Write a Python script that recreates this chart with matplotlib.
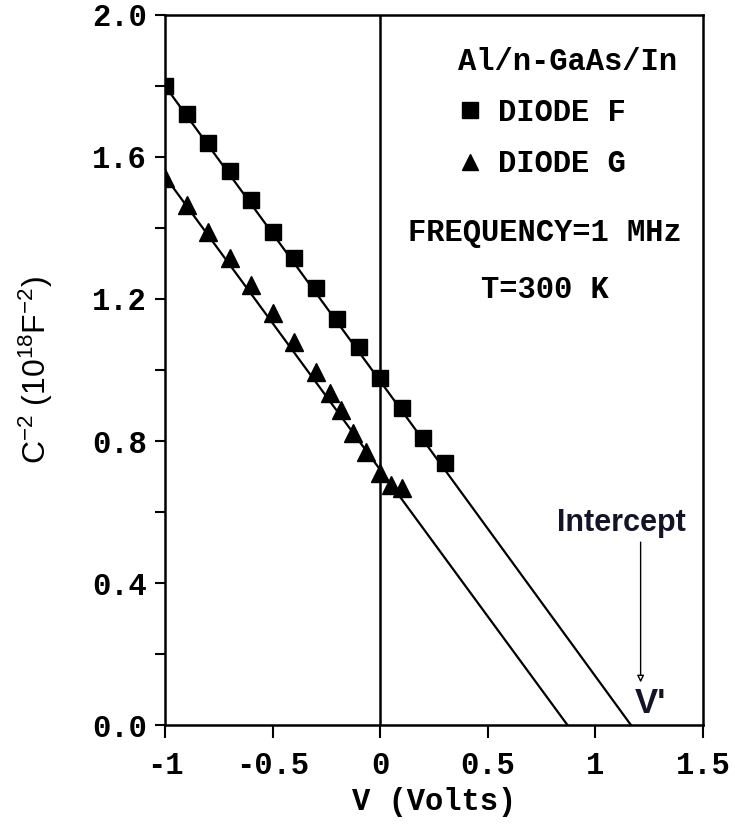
import numpy as np
import matplotlib
matplotlib.use("Agg")
import matplotlib.pyplot as plt
from matplotlib.lines import Line2D

plt.rcParams['axes.unicode_minus'] = False
plt.rcParams['mathtext.default'] = 'regular'

# C^-2 vs V data
v_F = [-1.0, -0.9, -0.8, -0.7, -0.6, -0.5, -0.4, -0.3, -0.2, -0.1, 0.0, 0.1, 0.2, 0.3]
c_F = [1.80, 1.72, 1.64, 1.56, 1.48, 1.39, 1.315, 1.23, 1.145, 1.065, 0.977, 0.892, 0.808, 0.737]

v_G = [-1.0, -0.9, -0.8, -0.7, -0.6, -0.5, -0.4, -0.3, -0.235, -0.18, -0.125, -0.065, 0.0, 0.05, 0.1]
c_G = [1.54, 1.465, 1.39, 1.315, 1.24, 1.16, 1.08, 0.995, 0.934, 0.887, 0.822, 0.77, 0.71, 0.675, 0.668]

# linear fits extrapolated to the intercept
fit_F_v = [-1.0, 1.165]
fit_F_c = [1.80, 0.0]
fit_G_v = [-1.0, 0.87]
fit_G_c = [1.545, 0.0]

xticks = [-1, -0.5, 0, 0.5, 1, 1.5]
xticklabels = ['-1', '-0.5', '0', '0.5', '1', '1.5']
yticks = [0.0, 0.4, 0.8, 1.2, 1.6, 2.0]
yticklabels = ['0.0', '0.4', '0.8', '1.2', '1.6', '2.0']

mono = 'Liberation Mono'
sans = 'Liberation Sans'

fig = plt.figure(figsize=(7.35, 8.27), dpi=100)
ax = fig.add_axes([0.2245, 0.1233, 0.732, 0.8586])

ax.plot(fit_F_v, fit_F_c, 'k-', lw=1.6)
ax.plot(fit_G_v, fit_G_c, 'k-', lw=1.6)
ax.plot(v_F, c_F, 's', color='k', ms=11, ls='none')
ax.plot(v_G, c_G, '^', color='k', ms=12.5, ls='none')
ax.axvline(0, color='k', lw=1.8)

ax.set_xlim(-1, 1.5)
ax.set_ylim(0, 2.0)
ax.set_xticks(xticks)
ax.set_xticklabels(xticklabels, fontfamily=mono, fontweight='bold', fontsize=22)
ax.set_yticks(yticks)
ax.set_yticklabels(yticklabels, fontfamily=mono, fontweight='bold', fontsize=22)
ax.set_yticks(np.arange(0.2, 2.0, 0.4), minor=True)
ax.tick_params(axis='x', direction='out', length=9, width=1.5, pad=10)
ax.tick_params(axis='y', which='both', direction='out', length=7, width=1.5, pad=6)
for s in ax.spines.values():
    s.set_linewidth(1.8)

ax.set_xlabel('V (Volts)', fontfamily=mono, fontweight='bold', fontsize=22, labelpad=4)
ax.set_ylabel('C$^{-2}$ (10$^{18}$F$^{-2}$)', fontfamily=sans, fontsize=23)
ax.yaxis.set_label_coords(-0.205, 0.5)

# legend
sq = Line2D([], [], marker='s', color='k', ls='none', ms=11)
tri = Line2D([], [], marker='^', color='k', ls='none', ms=12)
leg = ax.legend([sq, tri], ['DIODE F', 'DIODE G'], title='Al/n-GaAs/In',
                loc='upper left', bbox_to_anchor=(0.516, 0.977), frameon=False,
                prop={'family': mono, 'weight': 'bold', 'size': 22},
                title_fontproperties={'family': mono, 'weight': 'bold', 'size': 22},
                alignment='left', handlelength=0.8, handletextpad=0.5,
                labelspacing=0.7, borderpad=0)

ax.text(0.706, 0.693, 'FREQUENCY=1 MHz', transform=ax.transAxes, ha='center', va='center',
        fontfamily=mono, fontweight='bold', fontsize=22)
ax.text(0.706, 0.613, 'T=300 K', transform=ax.transAxes, ha='center', va='center',
        fontfamily=mono, fontweight='bold', fontsize=22)

# intercept annotation
ax.text(1.12, 0.57, 'Intercept', ha='center', va='center', fontfamily=sans,
        fontweight='bold', fontsize=22, color='#141428')
ax.annotate('', xy=(1.21, 0.12), xytext=(1.21, 0.515),
            arrowprops=dict(arrowstyle='-|>', lw=1.0, color='k', fc='white',
                            mutation_scale=10, shrinkA=0, shrinkB=0))
ax.text(1.255, 0.062, "V'", ha='center', va='center', fontfamily=sans,
        fontweight='bold', fontsize=25, color='#141428')

fig.savefig('out.png', dpi=100)
